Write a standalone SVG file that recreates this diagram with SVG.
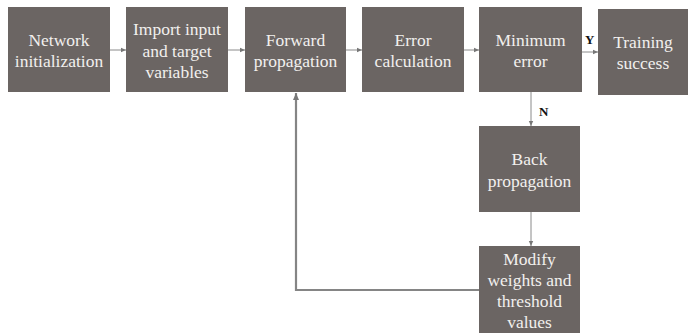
<svg xmlns="http://www.w3.org/2000/svg" width="693" height="333" viewBox="0 0 693 333">
<style>
.box{fill:#6b6563}
text{font-family:'Liberation Serif','Times New Roman','DejaVu Serif',serif}
.t{font-size:17.5px;fill:#f2f0ee;text-anchor:middle}
.c{stroke:#8a8a8a;stroke-width:1;fill:none}
.fb{stroke:#858585;stroke-width:2.2;fill:none}
.lbl{font-size:13px;font-weight:bold;fill:#111}
</style>
<defs>
<marker id="ah" markerWidth="6" markerHeight="6" refX="5" refY="3" orient="auto" markerUnits="userSpaceOnUse">
<path d="M0,0.8 L5,3 L0,5.2 z" fill="#777"/>
</marker>
<marker id="ah2" markerWidth="8" markerHeight="8" refX="7" refY="4" orient="auto" markerUnits="userSpaceOnUse">
<path d="M0,1 L7,4 L0,7 z" fill="#777"/>
</marker>
</defs>
<rect width="693" height="333" fill="#fff"/>
<g id="connectors">
<line class="c" x1="110" y1="50" x2="126" y2="50" marker-end="url(#ah)"/>
<line class="c" x1="228" y1="50" x2="245" y2="50" marker-end="url(#ah)"/>
<line class="c" x1="346" y1="50" x2="362" y2="50" marker-end="url(#ah)"/>
<line class="c" x1="464" y1="50" x2="479" y2="50" marker-end="url(#ah)"/>
<line class="c" x1="582" y1="52" x2="598" y2="52" marker-end="url(#ah)"/>
<line class="c" x1="531" y1="92" x2="531" y2="126" marker-end="url(#ah)"/>
<line class="c" x1="531" y1="212" x2="531" y2="246" marker-end="url(#ah)"/>
<polyline class="fb" points="479,290 296,290 296,93" marker-end="url(#ah2)"/>
<text class="lbl" x="585" y="44" font-family="Liberation Serif, serif">Y</text>
<text class="lbl" x="539" y="116" font-family="Liberation Serif, serif">N</text>
</g>
<g id="n1" font-family="Liberation Serif, serif"><rect class="box" x="8" y="7" width="102" height="85"/>
<text class="t" x="59" y="46">Network</text><text class="t" x="59" y="67">initialization</text></g>
<g id="n2" font-family="Liberation Serif, serif"><rect class="box" x="126" y="7" width="102" height="85"/>
<text class="t" x="177" y="35">Import input</text><text class="t" x="177" y="57">and target</text><text class="t" x="177" y="78">variables</text></g>
<g id="n3"><rect class="box" x="245" y="7" width="101" height="85"/>
<text class="t" x="295.5" y="46">Forward</text><text class="t" x="295.5" y="67">propagation</text></g>
<g id="n4"><rect class="box" x="362" y="7" width="102" height="85"/>
<text class="t" x="413" y="46">Error</text><text class="t" x="413" y="67">calculation</text></g>
<g id="n5"><rect class="box" x="479" y="7" width="103" height="85"/>
<text class="t" x="530.5" y="46">Minimum</text><text class="t" x="530.5" y="67">error</text></g>
<g id="n6"><rect class="box" x="598" y="9" width="90" height="86"/>
<text class="t" x="643" y="48">Training</text><text class="t" x="643" y="69">success</text></g>
<g id="n7"><rect class="box" x="479" y="126" width="101" height="86"/>
<text class="t" x="529.5" y="165">Back</text><text class="t" x="529.5" y="187">propagation</text></g>
<g id="n8"><rect class="box" x="479" y="246" width="101" height="87"/>
<text class="t" x="529.5" y="265">Modify</text><text class="t" x="529.5" y="286">weights and</text><text class="t" x="529.5" y="307">threshold</text><text class="t" x="529.5" y="328">values</text></g>
</svg>
